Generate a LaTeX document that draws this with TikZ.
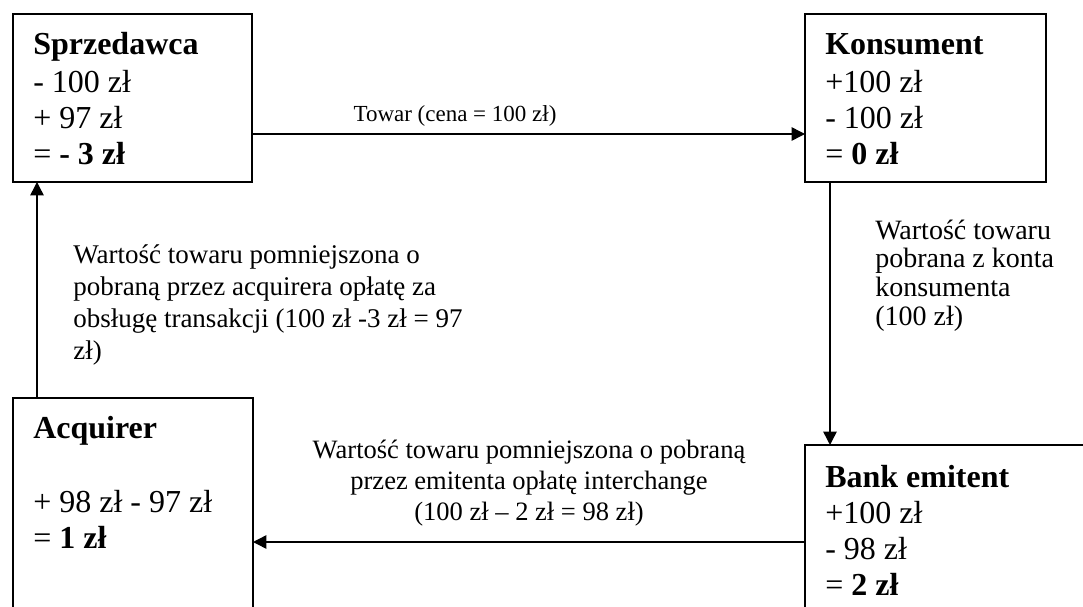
\documentclass[tikz,border=0pt]{standalone}
\usepackage{fontspec}
\setmainfont{Liberation Serif}
\usetikzlibrary{arrows.meta,calc}
\begin{document}
\begin{tikzpicture}[x=0.75pt,y=-0.75pt,
  box/.style={draw,line width=1.5pt,inner sep=0pt,outer sep=0pt,anchor=north west},
  arr/.style={line width=1.1pt,-{Triangle[length=10pt,width=10pt]}},
  boxtext/.style={font=\fontsize{24pt}{27pt}\selectfont,align=left,anchor=north west,inner sep=0pt},
  lab/.style={align=left,anchor=north west,inner sep=0pt}]
\clip (0,0) rectangle (1083,607);
% boxes
\node[box,minimum width=179.25pt,minimum height=126pt] (sprz) at (13,14) {};
\node[box,minimum width=180.75pt,minimum height=126pt] (kons) at (805,14) {};
\node[box,minimum width=180pt,minimum height=187.5pt] (acq) at (13,398) {};
\node[box,minimum width=240pt,minimum height=150pt] (bank) at (805,445) {};
% box texts
\node[boxtext] (sprzt) at (33,28.8) {\strut\textbf{Sprzedawca}\\[2pt]- 100 zł\\+ 97 zł\\= \textbf{- 3 zł}};
\node[boxtext] (konst) at (825,28.8) {\strut\textbf{Konsument}\\[1.5pt]+100 zł\\- 100 zł\\= \textbf{0 zł}};
\node[boxtext] (acqt) at (33,412.8) {\strut\textbf{Acquirer}\\[28.5pt]+ 98 zł - 97 zł\\= \textbf{1 zł}};
\node[boxtext] (bankt) at (825,461.8) {\strut\textbf{Bank emitent}\\+100 zł\\- 98 zł\\= \textbf{2 zł}};
% connectors
\draw[arr] ([yshift=-27pt]sprz.east) -- ([yshift=-27pt]kons.west);
\draw[arr] ([xshift=18.75pt]kons.south west) -- ([xshift=18.75pt]bank.north west);
\coordinate (bl) at ([yshift=-72.75pt]bank.north west);
\draw[arr] (bl) -- (acq.east |- bl);
\draw[arr] ([xshift=18pt]acq.north west) -- ([xshift=18pt]sprz.south west);
% labels
\node[inner sep=0pt,anchor=base,font=\fontsize{17.25pt}{20pt}\selectfont] (towar) at (455,121) {Towar (cena = 100 zł)};
\node[lab,font=\fontsize{20.25pt}{24pt}\selectfont] (leftlab) at (73,240.6) {\strut Wartość towaru pomniejszona o\\pobraną przez acquirera opłatę za\\obsługę transakcji (100 zł -3 zł = 97\\zł)};
\node[lab,font=\fontsize{21pt}{21.5pt}\selectfont] (rightlab) at (875,218.9) {\strut Wartość towaru\\pobrana z konta\\konsumenta\\(100 zł)};
\node[inner sep=0pt,align=center,anchor=north,font=\fontsize{19.9pt}{23.25pt}\selectfont] (botlab) at (529,437) {\strut Wartość towaru pomniejszona o pobraną\\przez emitenta opłatę interchange\\(100 zł – 2 zł = 98 zł)};
\end{tikzpicture}
\end{document}
